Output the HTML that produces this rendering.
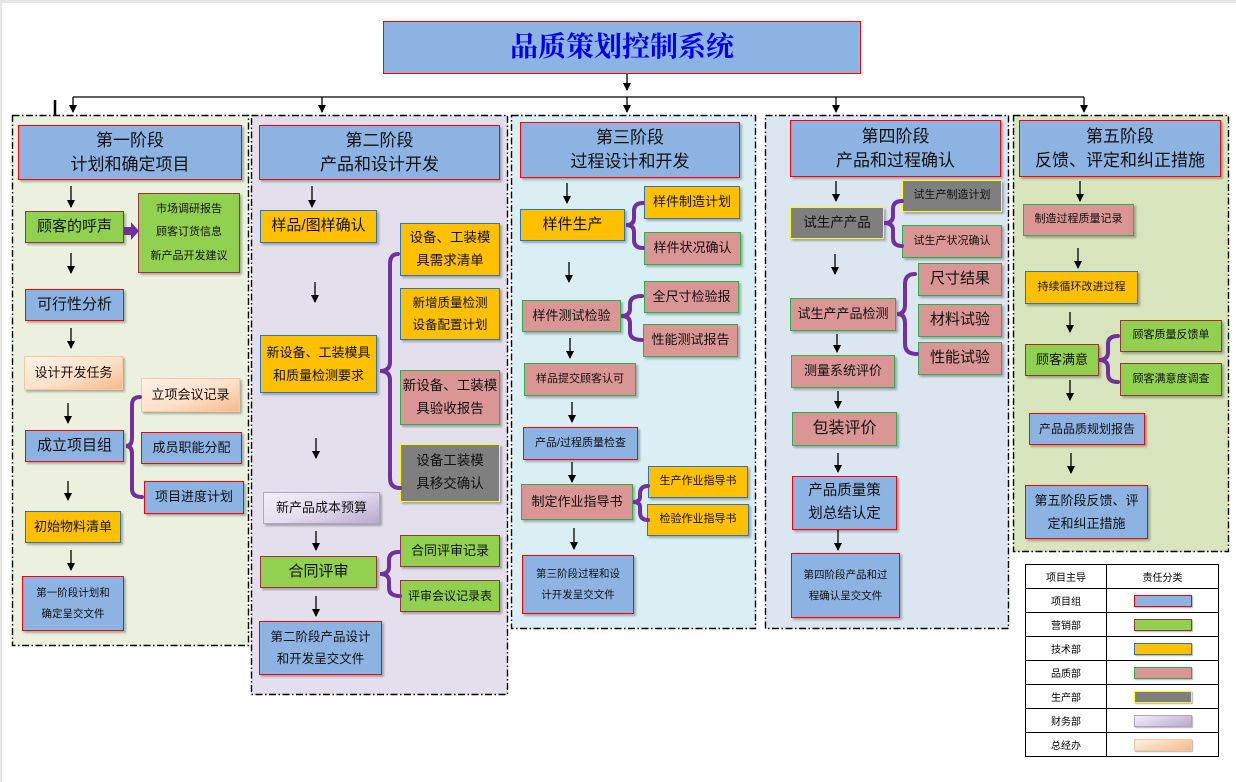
<!DOCTYPE html>
<html><head><meta charset="utf-8">
<style>
body{margin:0;width:1236px;height:782px;background:#fff;position:relative;overflow:hidden;font-family:"Liberation Sans","Noto Sans CJK SC",sans-serif;}
.p{position:absolute;box-sizing:border-box;}
.b{position:absolute;box-sizing:border-box;display:flex;align-items:center;justify-content:center;text-align:center;color:#111;font-size:13px;line-height:1.75;box-shadow:2px 2px 2px rgba(0,0,0,.28);}
.bl{background:#8db3e2;border:1.5px solid #f00;}
.gr{background:#92d050;border:1.5px solid #953735;}
.or{background:#ffc000;border:1.5px solid #2e75b6;}
.pk{background:#d99694;border:1.5px solid #2fae4e;}
.gy{background:#7f7f7f;border:1.5px solid #ff0;}
.lv{background:linear-gradient(160deg,#f3eff8 0%,#e3dcee 50%,#b9a9cf 100%);border:1px solid #b3a2c7;}
.pc{background:linear-gradient(160deg,#fff1e6 0%,#fde0c8 55%,#f9b98a 100%);border:1px solid #f6c9a4;}
svg{position:absolute;left:0;top:0;}
table{position:absolute;left:1025px;top:564px;width:194px;height:190px;border-collapse:collapse;font-size:10px;}
td{border:1.3px solid #000;text-align:center;padding:0;height:23px;}
.sw{display:inline-block;width:58px;height:12px;box-sizing:border-box;vertical-align:middle;box-shadow:1px 1px 1px rgba(0,0,0,.3);}
</style></head><body>
<div style="position:absolute;left:0;top:0;width:1236px;height:3px;background:#e6e6e6"></div>
<div style="position:absolute;left:0;top:0;width:2px;height:782px;background:#e6e6e6"></div>

<div class="p" style="left:12px;top:115px;width:237px;height:531px;background:#ebf1de"></div>
<div class="p" style="left:251px;top:115px;width:257px;height:580px;background:#e4dfec"></div>
<div class="p" style="left:511px;top:115px;width:245px;height:514px;background:#daeef3"></div>
<div class="p" style="left:765px;top:115px;width:244px;height:514px;background:#dce6f1"></div>
<div class="p" style="left:1013px;top:115px;width:216px;height:437px;background:#d8e4bc"></div>

<div class="b bl" style="left:383px;top:21px;width:478px;height:53px;font-family:'Liberation Serif','Noto Serif CJK SC',serif;font-size:28px;font-weight:bold;color:#0000ee;box-shadow:none">品质策划控制系统</div>

<div class="b bl" style="left:18px;top:125px;width:224px;height:55px;font-size:17px;line-height:1.4">第一阶段<br>计划和确定项目</div>
<div class="b bl" style="left:259px;top:125px;width:241px;height:55px;font-size:17px;line-height:1.4">第二阶段<br>产品和设计开发</div>
<div class="b bl" style="left:520px;top:122px;width:220px;height:56px;font-size:17px;line-height:1.4">第三阶段<br>过程设计和开发</div>
<div class="b bl" style="left:790px;top:120px;width:211px;height:57px;font-size:17px;line-height:1.4">第四阶段<br>产品和过程确认</div>
<div class="b bl" style="left:1019px;top:120px;width:202px;height:57px;font-size:17px;line-height:1.4">第五阶段<br>反馈、评定和纠正措施</div>

<!-- P1 -->
<div class="b gr" style="left:25px;top:211px;width:99px;height:32px;font-size:15px">顾客的呼声</div>
<div class="b gr" style="left:138px;top:193px;width:102px;height:80px;font-size:11px;line-height:2.1">市场调研报告<br>顾客订货信息<br>新产品开发建议</div>
<div class="b bl" style="left:25px;top:289px;width:99px;height:32px;font-size:15px">可行性分析</div>
<div class="b pc" style="left:24px;top:356px;width:99px;height:34px;font-size:13px">设计开发任务</div>
<div class="b bl" style="left:25px;top:430px;width:99px;height:32px;font-size:15px">成立项目组</div>
<div class="b pc" style="left:141px;top:378px;width:99px;height:34px">立项会议记录</div>
<div class="b bl" style="left:141px;top:432px;width:101px;height:32px">成员职能分配</div>
<div class="b bl" style="left:144px;top:481px;width:100px;height:33px">项目进度计划</div>
<div class="b or" style="left:25px;top:511px;width:96px;height:32px">初始物料清单</div>
<div class="b bl" style="left:22px;top:576px;width:102px;height:55px;font-size:10.5px;line-height:2">第一阶段计划和<br>确定呈交文件</div>

<!-- P2 -->
<div class="b or" style="left:260px;top:210px;width:117px;height:33px;font-size:15px">样品/图样确认</div>
<div class="b or" style="left:260px;top:335px;width:117px;height:58px;line-height:1.8">新设备、工装模具<br>和质量检测要求</div>
<div class="b or" style="left:400px;top:223px;width:100px;height:53px;font-size:13.5px;line-height:1.7">设备、工装模<br>具需求清单</div>
<div class="b or" style="left:400px;top:288px;width:100px;height:52px;font-size:12.5px;line-height:1.8">新增质量检测<br>设备配置计划</div>
<div class="b pk" style="left:400px;top:370px;width:100px;height:55px;font-size:13.5px;line-height:1.7">新设备、工装模<br>具验收报告</div>
<div class="b gy" style="left:400px;top:444px;width:100px;height:58px;font-size:13.5px;line-height:1.7">设备工装模<br>具移交确认</div>
<div class="b lv" style="left:263px;top:492px;width:117px;height:32px">新产品成本预算</div>
<div class="b gr" style="left:260px;top:556px;width:117px;height:32px;font-size:15px">合同评审</div>
<div class="b gr" style="left:400px;top:535px;width:100px;height:32px">合同评审记录</div>
<div class="b gr" style="left:400px;top:580px;width:100px;height:32px;font-size:12px">评审会议记录表</div>
<div class="b bl" style="left:259px;top:621px;width:123px;height:54px;font-size:12.5px;line-height:1.8">第二阶段产品设计<br>和开发呈交文件</div>

<!-- P3 -->
<div class="b or" style="left:520px;top:209px;width:105px;height:32px;font-size:15px">样件生产</div>
<div class="b or" style="left:644px;top:186px;width:96px;height:33px">样件制造计划</div>
<div class="b pk" style="left:644px;top:232px;width:97px;height:33px">样件状况确认</div>
<div class="b pk" style="left:522px;top:300px;width:99px;height:32px">样件测试检验</div>
<div class="b pk" style="left:644px;top:281px;width:95px;height:32px">全尺寸检验报</div>
<div class="b pk" style="left:643px;top:324px;width:95px;height:33px">性能测试报告</div>
<div class="b pk" style="left:524px;top:363px;width:112px;height:33px;font-size:11px">样品提交顾客认可</div>
<div class="b bl" style="left:523px;top:427px;width:115px;height:33px;font-size:11px">产品/过程质量检查</div>
<div class="b pk" style="left:521px;top:484px;width:112px;height:36px">制定作业指导书</div>
<div class="b or" style="left:648px;top:466px;width:100px;height:32px;font-size:11px">生产作业指导书</div>
<div class="b or" style="left:647px;top:504px;width:102px;height:32px;font-size:11px">检验作业指导书</div>
<div class="b bl" style="left:522px;top:555px;width:112px;height:59px;font-size:10.5px;line-height:2">第三阶段过程和设<br>计开发呈交文件</div>

<!-- P4 -->
<div class="b gy" style="left:790px;top:207px;width:94px;height:32px;font-size:13.5px">试生产产品</div>
<div class="b gy" style="left:902px;top:180px;width:100px;height:32px;font-size:11px">试生产制造计划</div>
<div class="b pk" style="left:902px;top:225px;width:100px;height:33px;font-size:11px">试生产状况确认</div>
<div class="b pk" style="left:790px;top:298px;width:106px;height:33px">试生产产品检测</div>
<div class="b pk" style="left:918px;top:263px;width:84px;height:33px;font-size:15px">尺寸结果</div>
<div class="b pk" style="left:918px;top:304px;width:84px;height:33px;font-size:15px">材料试验</div>
<div class="b pk" style="left:918px;top:342px;width:84px;height:33px;font-size:15px">性能试验</div>
<div class="b pk" style="left:791px;top:355px;width:104px;height:33px">测量系统评价</div>
<div class="b pk" style="left:792px;top:412px;width:105px;height:34px;font-size:16px">包装评价</div>
<div class="b bl" style="left:792px;top:476px;width:105px;height:54px;font-size:14.5px;line-height:1.6">产品质量策<br>划总结认定</div>
<div class="b bl" style="left:791px;top:553px;width:109px;height:65px;font-size:10.5px;line-height:2">第四阶段产品和过<br>程确认呈交文件</div>

<!-- P5 -->
<div class="b pk" style="left:1023px;top:204px;width:111px;height:32px;font-size:11px">制造过程质量记录</div>
<div class="b or" style="left:1025px;top:271px;width:113px;height:33px;font-size:11px">持续循环改进过程</div>
<div class="b gr" style="left:1025px;top:344px;width:74px;height:32px">顾客满意</div>
<div class="b gr" style="left:1120px;top:320px;width:102px;height:32px;font-size:11px">顾客质量反馈单</div>
<div class="b gr" style="left:1120px;top:363px;width:102px;height:33px;font-size:11px">顾客满意度调查</div>
<div class="b bl" style="left:1029px;top:413px;width:116px;height:32px;font-size:12px">产品品质规划报告</div>
<div class="b bl" style="left:1025px;top:485px;width:123px;height:54px;font-size:13px;line-height:1.8">第五阶段反馈、评<br>定和纠正措施</div>

<svg width="1236" height="782">
<defs><marker id="a" markerWidth="8" markerHeight="8" refX="7" refY="4" orient="auto" markerUnits="userSpaceOnUse"><path d="M0,0 L8,4 L0,8 z" fill="#000"/></marker></defs>
<g stroke="#000" stroke-width="1.4" fill="none" stroke-dasharray="7,2.5,1.5,2.5">
<rect x="12.5" y="115.5" width="236" height="530"/>
<rect x="251.5" y="115.5" width="256" height="579"/>
<rect x="511.5" y="115.5" width="244" height="513"/>
<rect x="765.5" y="115.5" width="243" height="513"/>
<rect x="1013.5" y="115.5" width="215" height="436"/>
</g>
<g stroke="#000" stroke-width="1.3" fill="none">
<line x1="627" y1="74" x2="627" y2="90" stroke="#555" stroke-width="2" marker-end="url(#a)"/>
<line x1="73" y1="97" x2="1084" y2="97"/>
<line x1="73" y1="97" x2="73" y2="112" marker-end="url(#a)"/>
<line x1="322" y1="97" x2="322" y2="112" marker-end="url(#a)"/>
<line x1="627" y1="97" x2="627" y2="112" marker-end="url(#a)"/>
<line x1="836" y1="97" x2="836" y2="112" marker-end="url(#a)"/>
<line x1="1084" y1="97" x2="1084" y2="112" marker-end="url(#a)"/>
<line x1="55" y1="100" x2="55" y2="116" stroke-width="2.5"/>
<line x1="71" y1="186" x2="71" y2="207" marker-end="url(#a)"/>
<line x1="71" y1="253" x2="71" y2="273" marker-end="url(#a)"/>
<line x1="71" y1="328" x2="71" y2="348" marker-end="url(#a)"/>
<line x1="68" y1="403" x2="68" y2="423" marker-end="url(#a)"/>
<line x1="68" y1="481" x2="68" y2="500" marker-end="url(#a)"/>
<line x1="71" y1="550" x2="71" y2="570" marker-end="url(#a)"/>
<line x1="312" y1="186" x2="312" y2="207" marker-end="url(#a)"/>
<line x1="315" y1="282" x2="315" y2="302" marker-end="url(#a)"/>
<line x1="316" y1="438" x2="316" y2="458" marker-end="url(#a)"/>
<line x1="316" y1="531" x2="316" y2="550" marker-end="url(#a)"/>
<line x1="316" y1="596" x2="316" y2="616" marker-end="url(#a)"/>
<line x1="567" y1="183" x2="567" y2="203" marker-end="url(#a)"/>
<line x1="569" y1="262" x2="569" y2="282" marker-end="url(#a)"/>
<line x1="570" y1="338" x2="570" y2="358" marker-end="url(#a)"/>
<line x1="572" y1="402" x2="572" y2="422" marker-end="url(#a)"/>
<line x1="572" y1="462" x2="572" y2="482" marker-end="url(#a)"/>
<line x1="574" y1="528" x2="574" y2="549" marker-end="url(#a)"/>
<line x1="836" y1="181" x2="836" y2="201" marker-end="url(#a)"/>
<line x1="835" y1="254" x2="835" y2="274" marker-end="url(#a)"/>
<line x1="837" y1="334" x2="837" y2="352" marker-end="url(#a)"/>
<line x1="838" y1="391" x2="838" y2="408" marker-end="url(#a)"/>
<line x1="838" y1="453" x2="838" y2="472" marker-end="url(#a)"/>
<line x1="838" y1="530" x2="838" y2="550" marker-end="url(#a)"/>
<line x1="1080" y1="181" x2="1080" y2="201" marker-end="url(#a)"/>
<line x1="1078" y1="248" x2="1078" y2="268" marker-end="url(#a)"/>
<line x1="1070" y1="312" x2="1070" y2="332" marker-end="url(#a)"/>
<line x1="1070" y1="380" x2="1070" y2="400" marker-end="url(#a)"/>
<line x1="1071" y1="453" x2="1071" y2="473" marker-end="url(#a)"/>
</g>
<path d="M124,227 L131,227 L131,222 L139,231 L131,240 L131,235 L124,235 z" fill="#7030a0"/>
<g stroke="#7030a0" stroke-width="4" fill="none" stroke-linecap="round">
<path d="M140,397 Q132,397 132,405 L132,438 Q132,446 126,446 Q132,446 132,454 L132,489 Q132,497 142,497"/>
<path d="M398,254 Q390,254 390,264 L390,362 Q390,371 380,371 Q390,371 390,380 L390,478 Q390,488 400,488"/>
<path d="M399,552 Q389,552 389,560 L389,567 Q389,574 380,574 Q389,574 389,581 L389,588 Q389,596 400,596"/>
<path d="M643,203 Q634,203 634,211 L634,218 Q634,225 626,225 Q634,225 634,232 L634,240 Q634,248 643,248"/>
<path d="M642,296 Q630,296 630,304 L630,309 Q630,316 621,316 Q630,316 630,323 L630,332 Q630,340 642,340"/>
<path d="M648,486 Q640,486 640,494 L640,497 Q640,502 633,502 Q640,502 640,507 L640,512 Q640,520 648,520"/>
<path d="M902,201 Q893,201 893,209 L893,216 Q893,223 884,223 Q893,223 893,230 L893,238 Q893,246 902,246"/>
<path d="M915,274 Q905,274 905,284 L905,305 Q905,314 897,314 Q905,314 905,323 L905,344 Q905,354 917,354"/>
<path d="M1118,336 Q1108,336 1108,344 L1108,352 Q1108,360 1099,360 Q1108,360 1108,368 L1108,374 Q1108,382 1118,382"/>
</g>
</svg>

<table>
<tr><td style="width:80px">项目主导</td><td>责任分类</td></tr>
<tr><td>项目组</td><td><span class="sw" style="background:#8db3e2;border:1.5px solid #f00"></span></td></tr>
<tr><td>营销部</td><td><span class="sw" style="background:#92d050;border:1.5px solid #953735"></span></td></tr>
<tr><td>技术部</td><td><span class="sw" style="background:#ffc000;border:1.5px solid #2e75b6"></span></td></tr>
<tr><td>品质部</td><td><span class="sw" style="background:#d99694;border:1.5px solid #2fae4e"></span></td></tr>
<tr><td>生产部</td><td><span class="sw" style="background:#7f7f7f;border:1.5px solid #ff0"></span></td></tr>
<tr><td>财务部</td><td><span class="sw" style="background:linear-gradient(160deg,#f3eff8,#b9a9cf);border:1px solid #b3a2c7"></span></td></tr>
<tr><td>总经办</td><td><span class="sw" style="background:linear-gradient(160deg,#fff1e6,#f9b98a);border:1px solid #f6c9a4"></span></td></tr>
</table>
</body></html>
